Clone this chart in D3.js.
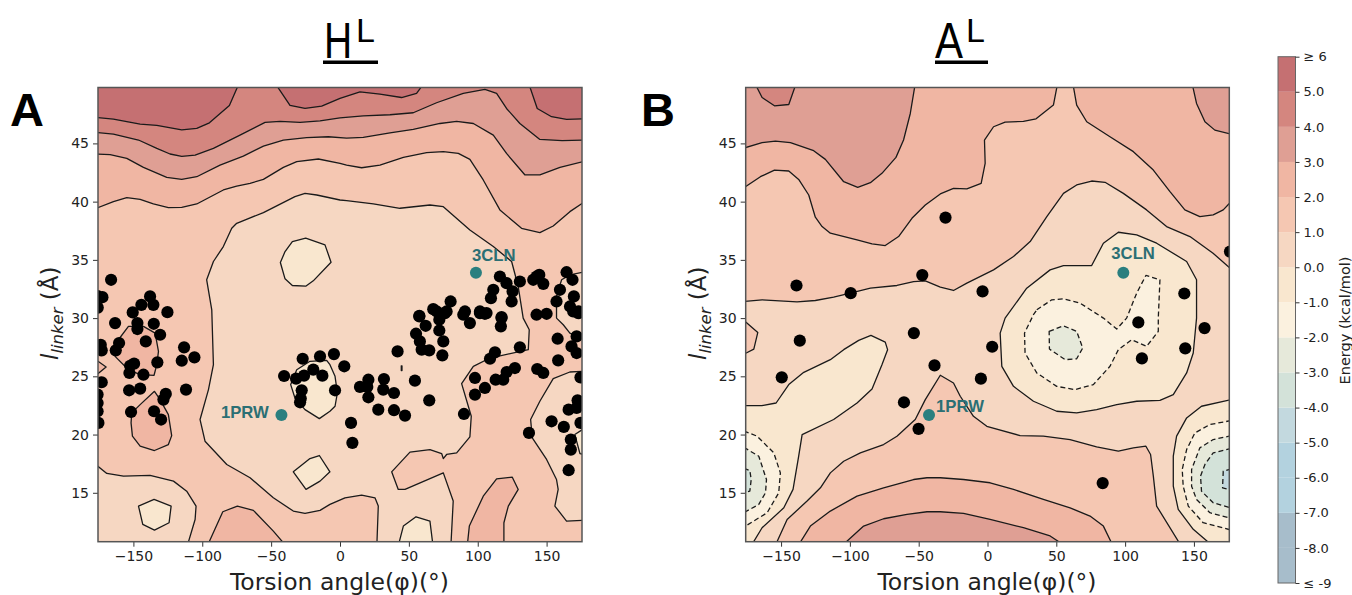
<!DOCTYPE html>
<html>
<head>
<meta charset="utf-8">
<script src="https://cdn.jsdelivr.net/npm/d3@7"></script>
<style>
body { margin: 0; background: #fff; }
svg { display: block; }
text { font-family: "DejaVu Sans", sans-serif; fill: #222; }
</style>
</head>
<body>
<script>
// Energy bands of the colour bar: lower bound of each band and its colour
var bandLows = [-9,-8,-7,-6,-5,-4,-3,-2,-1,0,1,2,3,4,5];
var bandColors = ["#A7BDCB","#A7BDCB","#B3D2DF","#B3D2DF","#C3D9DF","#D3E2D9","#E6E9DA","#FBF1DF","#F9E7CF","#F6D7C2","#F5C7B2","#F0B6A3","#DF9F94","#D4867F","#C57072"];
var colorTicks = [-9,-8,-7,-6,-5,-4,-3,-2,-1,0,1,2,3,4,5,6];
var phiTicks = [-150,-100,-50,0,50,100,150];
var linkerTicks = [15,20,25,30,35,40,45];

// Panel A contours, [phi, l]
var a2 = [[-177,39.43],[-164.5,40],[-154.8,40.34],[-145.1,40.2],[-135.5,39.8],[-124.6,39.49],[-114.9,39.51],[-104,39.8],[-84.7,41],[-75,41.34],[-65.3,41.57],[-55.6,41.91],[-41.1,42.94],[-31.4,43.43],[-15.7,43.66],[0,43.29],[4.8,43.14],[15.7,42.91],[29,43.14],[46,43.8],[62.9,44.2],[75,44.29],[85.9,44.14],[94.3,43.63],[104,41.86],[116.1,39.29],[131.8,37.71],[145.1,37.34],[154.8,37.91],[166.9,39.14],[177,39.95],[177,50.5],[-177,50.5]];
var a3 = [[-177,44.09],[-166.9,44.03],[-154.8,43.71],[-142.7,42.94],[-125.8,42.09],[-114.9,41.91],[-104,42.14],[-87.1,43.14],[-70.2,43.91],[-55.6,44.77],[-41.1,45.29],[-24.2,45.49],[-8.5,45.57],[4.8,45.46],[16.9,45.51],[36.3,45.91],[53.2,46.2],[72.6,46.71],[84.7,46.89],[96.8,46.71],[111.3,45.71],[120.9,44.14],[134.3,42.29],[145.1,42.29],[159.7,42.94],[177,43.45],[177,50.5],[-177,50.5]];
var a4 = [[-177,45.94],[-164.5,45.8],[-146.3,45.29],[-133,44.57],[-123.4,44.09],[-114.9,43.89],[-105.2,44],[-91.9,44.57],[-72.6,45.71],[-54.4,46.8],[-43.5,46.89],[-29,46.8],[-14.5,46.94],[0,47.2],[16.9,47.37],[36.3,47.46],[53.2,47.63],[70.1,48.49],[89.5,49.29],[105.2,49.63],[113.7,49.29],[120.9,48],[130.6,46.71],[145.1,45.34],[161.3,45.23],[177,45.29],[177,50.5],[-177,50.5]];
var a5Left = [[-177,47.23],[-164.5,47.09],[-145.1,46.66],[-133,46.54],[-114.9,46.17],[-104,46.29],[-94.8,46.77],[-80.3,48.26],[-72,50.5],[-177,50.5]];
var a5Mid = [[-49,50.5],[-36.3,48.26],[-25.4,48],[-13.3,48.2],[0,48.86],[14.5,49.43],[29,49.23],[44.7,48.94],[55.6,49.29],[63,50.5]];
var a5Right = [[136,50.5],[143.2,48],[153.6,47.29],[164.5,47.06],[177,47.11],[177,50.5]];
var a0Main = [[26.6,10],[27.8,13.86],[25.4,14.57],[15.7,14.8],[3.6,14.57],[-7.3,14],[-14.5,13.49],[-25.4,13.23],[-33.9,13.43],[-48.4,14.57],[-65.3,16.29],[-82.2,17.43],[-98,19.43],[-101.6,21.29],[-95.5,23.86],[-91.9,26],[-93.1,30.71],[-96.8,33.29],[-91.9,34.86],[-84.7,36.14],[-78.6,37.71],[-75,38.14],[-55.6,39.06],[-32.7,40.43],[-25.4,40.71],[-16.9,40.57],[0,40.14],[4.8,40.09],[24.2,39.8],[43.5,39.43],[65.3,39.71],[75,39.57],[94.3,37.57],[111.3,36.14],[124.6,34.86],[129.4,32.71],[133,30],[137.4,29],[136.7,27.29],[108.9,26.57],[96.8,25.86],[88.3,24.37],[95.3,21.57],[94.3,19.8],[84.7,18.43],[77.4,18.29],[75,17.94],[73.8,18.37],[65.3,18.71],[50.8,18.49],[37.5,16.8],[42.3,15.29],[47.2,15.29],[75,16.71],[82.2,14.29],[80.3,10]];
var a0TopRight = [[177,33.95],[166.9,33.71],[160.9,33.29],[157.2,31.86],[157.2,30],[162.1,29.43],[166.9,28.71],[177,28.2]];
var a0BottomRight = [[177,25.43],[166.9,25.37],[154.8,24.8],[145.1,22.86],[138.4,21.29],[139.6,19.71],[150,17.86],[157.2,16.14],[158.4,15.29],[156,13.86],[164.5,12.57],[177,12.63]];
var a0BottomLeft = [[-177,17.4],[-169.3,16.66],[-157.2,16.43],[-137.9,16.49],[-120.9,16],[-111.3,15.14],[-104.5,13.86],[-105.2,12.71],[-112,10],[-177,10]];
var a2Bottom1 = [[92,10],[93.9,12.14],[104,14.71],[113.7,16.2],[125.1,16.34],[129.4,15.29],[122.2,13.86],[119,12.43],[119,10]];
var a2Bottom2 = [[-98,10],[-85.1,13.37],[-74.5,13.86],[-62.9,13.49],[-48.4,11.71],[-36,10]];
var a2BlobLow = [[-151.7,21],[-150.7,19.86],[-145.1,19],[-134.7,18.63],[-124.6,19.14],[-122.2,19.91],[-124.6,21.71],[-130.6,23],[-134.7,23.71],[-145.1,22.57],[-151.2,21.86]];
var a2BlobHigh = [[-163.3,26.71],[-153.6,25.57],[-145.1,25.14],[-135,25.09],[-133,26],[-131.8,27.14],[-134.2,28.71],[-142.7,29.29],[-153.6,29.29],[-160.9,28.14]];
var a2Sliver = [[-177,26.4],[-169.8,25.8],[-177,25.1]];
var am1Bottom = [[41.3,10],[46,12.14],[55.2,12.94],[65.3,12.57],[68,10]];
var am1Left = [[-146.3,13.86],[-135,14.43],[-122.6,13.86],[-124.1,12.43],[-134.7,11.8],[-143.2,12.29]];
var am1Top = [[-34.6,36.57],[-24.9,36.86],[-10.9,36.29],[-6.5,34.8],[-19.4,33.2],[-24.9,32.74],[-34.6,32.8],[-39.9,33.37],[-43.3,34.77],[-39.9,35.71]];
var am1Mid = [[-7.3,26],[-3.6,25],[-1.9,23.57],[-3.6,22.43],[-7.3,22],[-15,21.37],[-25.4,22.14],[-32.7,23.14],[-35.8,24.29],[-31.4,25.57],[-21.8,26.29],[-9.7,26.37]];
var am1Low = [[-33.9,16.8],[-21.8,17.94],[-15,18.2],[-7.3,16.8],[-14.5,16],[-24.7,15.29]];
var am1Right = [[177,20.5],[170.5,20],[174.2,18.37],[177,18.3]];
var am1Dot = [[44.5,25.9],[45,25.9],[45,25.5],[44.5,25.5]];

var aRegions = [
	[2,a2],[3,a3],[4,a4],[5,a5Left],[5,a5Mid],[5,a5Right],
	[0,a0Main],[0,a0TopRight],[0,a0BottomRight],[0,a0BottomLeft],
	[2,a2Bottom1],[2,a2Bottom2],[2,a2BlobLow],[2,a2BlobHigh],[2,a2Sliver],
	[-1,am1Bottom],[-1,am1Left],[-1,am1Top],[-1,am1Mid],[-1,am1Low],[-1,am1Right],[-1,am1Dot]
];

// Panel B contours
var b2Left = [[-177,41.2],[-165,42.14],[-154.8,42.71],[-144.4,42.63],[-137.2,41.91],[-129.9,40.57],[-125.1,38.66],[-120.2,37.86],[-114.2,37.29],[-94.8,36.71],[-83.9,36.37],[-74.3,36.23],[-64.6,37],[-54.9,38.57],[-45.2,39.71],[-34.3,40.66],[-24.7,41.14],[-15,41.09],[-4.6,41.57],[-1.7,43.29],[-2.2,45.29],[4.4,46.43],[12.8,46.83],[26.1,46.89],[35.3,47.11],[47.9,48.29],[51.5,50.5],[-177,50.5]];
var b2Right = [[61.5,50.5],[64.8,48.29],[72.1,46.86],[89,45.57],[106,44.29],[120.5,42.71],[132.6,40.86],[143.4,39.29],[154.3,38.71],[164,38.86],[171.3,39.29],[177,40],[177,50.5]];
var b3Left = [[-177,44.6],[-163.8,45.06],[-154.1,45.2],[-143.2,45.06],[-126.3,44.37],[-117.8,43.63],[-104.5,41.71],[-94.3,41.23],[-85.1,41.63],[-76.7,42.43],[-66.5,43.8],[-61,45.29],[-56.1,47.57],[-52,50.5],[-177,50.5]];
var b3Right = [[148,50.5],[151.9,48.43],[158,46.86],[165.2,46.14],[177,45.8],[177,50.5]];
var b4Top = [[-170.5,50.5],[-163.8,48.94],[-154.8,48.23],[-144.4,48.34],[-138,50.5]];
var b0Main = [[-177,31.43],[-163.8,31.57],[-138.4,31.4],[-125.1,31.51],[-111.8,31.8],[-99.7,32.14],[-85.1,32.57],[-65.8,32.8],[-53.7,33.14],[-45.2,33.2],[-34.3,32.66],[-24.7,32.37],[-15,33],[4.4,34.14],[18.9,35.29],[31,36.57],[43.1,38.71],[55.2,40.71],[64.8,41.43],[75.7,41.77],[85.4,41.66],[98.7,40.71],[115.6,39.29],[130.1,37.86],[147.1,37],[163.9,35.57],[177,34.2],[177,10],[143,10],[122.9,13.86],[120.5,16.43],[118.5,18.29],[115.1,19],[106,18.86],[95.1,18.57],[79.3,18.94],[60,19.57],[40.6,19.86],[23.7,19.91],[-0.5,20.71],[-10.2,21.57],[-19.8,23.29],[-24.7,24.43],[-34.3,25.09],[-45.2,23],[-52.5,21.29],[-65.8,19.86],[-75.5,19.14],[-92.4,18.43],[-104.5,17.71],[-114.2,16.71],[-121.4,15.43],[-131.1,14.29],[-145.6,12.71],[-156,10],[-177,10]];
var b1Sliver = [[-177,29.8],[-166.9,28.77],[-169.8,27.34],[-177,26.9]];
var b2Arch = [[-140,10],[-128.7,12.14],[-114.2,13.43],[-94.8,14.71],[-75.5,15.43],[-53.7,16.14],[-44,16.29],[-34.3,16.29],[-17.4,16.14],[1.9,15.86],[18.9,15.29],[40.6,14.43],[60,13.71],[74.5,13],[84.2,12.14],[93,10]];
var b3Arch = [[-110,10],[-90,12.14],[-75.5,12.77],[-58.5,13.14],[-44,13.37],[-34.3,13.37],[-17.4,13.23],[1.9,12.71],[26.1,12],[45.5,11.29],[62,10]];
var bm1Left = [[-177,22.49],[-163.8,22.49],[-153.6,22.71],[-144.4,24.29],[-133.5,25.34],[-114.2,26.43],[-104.5,27.29],[-93.6,28.09],[-84.7,28.51],[-74.3,27.94],[-72.6,27.29],[-76.7,26],[-83.9,23.91],[-94.8,22.71],[-111.8,21.29],[-134.7,20],[-137.2,18.14],[-141.3,15.29],[-148,13.71],[-163.8,12],[-174,10],[-177,10]];
var bm2Left = [[-177,20.3],[-167.4,19.86],[-155.3,18.43],[-150.5,16.71],[-151.7,15],[-160.1,13.29],[-177,12.05]];
var bm3Left = [[-177,18.9],[-166.2,18.14],[-160.6,16.14],[-161.3,15],[-166.2,14],[-177,13.3]];
var bm4Left = [[-177,17.1],[-172.7,16.91],[-171.7,16.14],[-172.7,15.14],[-177,15]];
var bm1Mid = [[12.8,30],[28.5,32.57],[45.5,34.14],[55.2,34.51],[75.7,34.51],[84.2,36.43],[95.1,37.37],[108.4,37.14],[122.9,36.43],[144.7,34.86],[151.9,33.29],[151.9,30],[149.5,27],[144.7,25.29],[135,23.43],[125.3,22.94],[108.4,22.86],[93.9,22.57],[79.3,22.14],[64.8,21.86],[50.3,22],[33.4,22.86],[18.9,24.14],[10.4,25.86],[9.2,28.71]];
var bm2Mid = [[35.8,30.71],[46.7,31.57],[55.2,31.66],[67.2,31.29],[84.2,30],[93.9,29.06],[101.1,30],[108.4,32.14],[115.1,33.66],[125.3,33.29],[124.1,30],[124.1,28.86],[115.6,27.57],[104.7,28.14],[95.1,27.29],[89,25.86],[76.9,24.29],[63.6,23.86],[50.3,24.14],[35.8,25.29],[27.3,27],[26.9,28.71],[33.4,30.29]];
var bm3Mid = [[44.8,28.86],[55.2,29.34],[64.8,28.86],[69.2,27.43],[64.8,26.51],[56.4,26.43],[45,27.34]];
var bm1Right = [[177,23],[155.5,22.43],[144.7,21.43],[137.4,19.86],[135,18.14],[135,15.57],[138.6,13.57],[149.5,11.86],[168,10],[177,10]];
var bm2Right = [[177,21.2],[161.6,20.86],[150.7,20.14],[144.7,18.71],[141.5,17],[142.2,15.57],[145.9,13.86],[156.7,12.43],[177,11.8]];
var bm3Right = [[177,19.9],[164,19.57],[154.3,18.86],[148.3,17],[148.3,15.57],[151.9,14.43],[161.6,13.29],[177,12.8]];
var bm4Right = [[177,18.8],[164,18.43],[158,17.43],[154.8,16.43],[155.5,15.14],[164,14.14],[177,13.7]];
var bm5Right = [[177,17.05],[171.3,16.86],[170.8,15.43],[177,15.25]];

var bRegions = [
	[2,b2Left],[2,b2Right],[3,b3Left],[3,b3Right],[4,b4Top],
	[0,b0Main],[1,b1Sliver],[2,b2Arch],[3,b3Arch],
	[-1,bm1Left],[-2,bm2Left],[-3,bm3Left],[-4,bm4Left],
	[-1,bm1Mid],[-2,bm2Mid],[-3,bm3Mid],
	[-1,bm1Right],[-2,bm2Right],[-3,bm3Right],[-4,bm4Right],[-5,bm5Right]
];

// Structures, phi and l
var aDots = [[-166.2,33.29],[-172.5,31.8],[-176,31.9],[-137.9,31.86],[-144.2,31.14],[-135.5,31.14],[-150.5,30.49],[-125.3,30.51],[-175.9,30.9],[-163.3,29.57],[-135.2,29.51],[-147.1,29.57],[-147.1,29.06],[-130.6,28.57],[-141,28],[-160.4,27.86],[-162.8,27.23],[-173.7,27.71],[-173,27.23],[-113.2,27.49],[-105.7,26.63],[-114.9,26.34],[-132.6,26.2],[-149.5,26.09],[-152.4,25.91],[-152.9,25.29],[-142.7,25.14],[-173,24.49],[-145.1,23.94],[-153.1,23.8],[-111.8,23.86],[-126.5,23.49],[-128.2,23],[-176,23.43],[-176,22.7],[-176,22],[-151.7,21.94],[-135,22],[-129.9,21.29],[-175.4,21],
	[-27.1,26.51],[-14.5,26.71],[-4.4,26.91],[-40.6,25.03],[-31.9,24.8],[-26.1,25.06],[-19.4,25.57],[-12.8,25.06],[3.1,25.86],[-3.6,23.8],[-27.8,23.8],[-28.5,23.1],[-29,22.77],[8,21],[9,19.29],
	[57.6,30.14],[62.2,29.34],[55.2,28.66],[58,28],[59.3,27.29],[64.8,27.23],[72.1,28.94],[75,28],[74.3,26.8],[41.8,27.14],[20.6,24.71],[14.5,24.09],[20.6,23.2],[19.8,24.09],[31.9,24.77],[31.4,23.86],[39.2,23.57],[54.4,24.63],[27.8,22.14],[39.2,22.09],[47.2,21.63],[64.8,22.94],[90,21.77],[98,24.86],[98,23.43],[105.2,24],[113,24.71],[118.5,24.71],[121,25.37],[127,25.71],[108.9,26.51],[112.5,27.06],[130.6,27.49],[143.2,25.63],[147.6,25.29],[158.4,26.37],[158,28.23],[137.2,20.14],[153.6,21.14],[162.5,20.66],[166,22.14],[171.8,22.29],[172.5,22.94],[174.6,24.91],[174.6,21],[167.6,19.57],[167.6,18.71],[166,16.94],[168.1,27.57],[171.8,27],[171.8,28.43],
	[70.2,30.57],[76.2,30.43],[72.1,29.86],[89.5,30.29],[94.3,29.57],[101.6,30.43],[105.2,30.37],[117.3,30],[116.8,29.29],[142.7,30.29],[150,30.37],[169.3,30.57],[173,30.43],
	[116.1,33.57],[120.9,33],[130.6,33.14],[125.3,32.29],[111.3,32.43],[109.6,31.71],[124.6,31.43],[142.7,33.57],[140.3,33.29],[147.6,32.94],[144.7,33.71],[164.5,33.94],[168.8,33.29],[159.7,32.43],[157.2,31.43],[169.8,31.86],[167,31],[173,30.57],[80.3,31.43],[77.4,30.57],[67.7,30.77],[90.7,30.57],[57.6,30.2],[117.3,30.09],[101.6,30.57],[106.4,30.43]];
var bDots = [[-138.8,32.8],[-99.4,32.14],[-47.4,33.69],[-30.5,38.63],[-3.6,32.29],[143,32.11],[176.2,35.71],[-136.4,28.06],[-53.5,28.71],[-149.5,24.91],[-38.5,25.94],[-60.7,22.77],[-50.1,20.49],[-4.8,24.8],[3.4,27.54],[109.6,29.63],[112.2,26.54],[143.7,27.4],[157.7,29.14],[83.7,15.83]];

var refNames = ["1PRW","3CLN"];
var refPhi = [-42.5,98.7];
var refLinker = [21.68,33.9];

var svg = d3.select("body").append("svg").attr("width",1352).attr("height",595);

var yScale = d3.scaleLinear().domain([10.8,49.8]).range([541.7,87.5]);
var bandColor = d3.scaleOrdinal().domain(bandLows).range(bandColors);

function drawPanel(id, left, right, regions, dots, labelDx, labelDy) {
	var xScale = d3.scaleLinear().domain([-175.7,175.7]).range([left,right]);
	var line = d3.line().x(function(d){return xScale(d[0]);}).y(function(d){return yScale(d[1]);});

	svg.append("clipPath").attr("id",id)
		.append("rect")
		.attr("x",left).attr("y",yScale(49.8))
		.attr("width",right-left).attr("height",yScale(10.8)-yScale(49.8));

	var plot = svg.append("g").attr("clip-path","url(#"+id+")");

	// fundo = faixa de 1 a 2
	plot.append("rect")
		.attr("x",left).attr("y",yScale(49.8))
		.attr("width",right-left).attr("height",yScale(10.8)-yScale(49.8))
		.attr("fill",bandColor(1));

	plot.selectAll("path.region")
		.data(regions)
		.enter().append("path")
		.attr("class","region")
		.attr("d",function(d){return line(d[1])+"Z";})
		.attr("fill",function(d){return bandColor(d[0]);})
		.attr("stroke","#1a1a1a")
		.attr("stroke-width",1.3)
		.attr("stroke-linejoin","round")
		.attr("stroke-dasharray",function(d){return d[0]<-1 ? "5,3" : null;});

	plot.selectAll("circle.dot")
		.data(dots)
		.enter().append("circle")
		.attr("class","dot")
		.attr("cx",function(d){return xScale(d[0]);})
		.attr("cy",function(d){return yScale(d[1]);})
		.attr("r",6.1)
		.attr("fill","#000");

	// Estruturas de referencia
	svg.selectAll("circle.ref"+id)
		.data(refNames)
		.enter().append("circle")
		.attr("class","ref"+id)
		.attr("cx",function(d,i){return xScale(refPhi[i]);})
		.attr("cy",function(d,i){return yScale(refLinker[i]);})
		.attr("r",6)
		.attr("fill","#2A7F7F");

	svg.selectAll("text.ref"+id)
		.data(refNames)
		.enter().append("text")
		.attr("class","ref"+id)
		.attr("x",function(d,i){return xScale(refPhi[i])+labelDx[i];})
		.attr("y",function(d,i){return yScale(refLinker[i])+labelDy[i];})
		.text(function(d){return d;})
		.style("font-family","'Liberation Sans',sans-serif")
		.style("font-weight","bold")
		.style("font-size","16.7px")
		.style("fill","#2B6F74");

	// Eixos
	var xAxis = d3.axisBottom(xScale).tickValues(phiTicks).tickSize(5).tickPadding(4)
		.tickFormat(function(d){return d<0 ? "\u2212"+(-d) : d;});
	var yAxis = d3.axisLeft(yScale).tickValues(linkerTicks).tickSize(5).tickPadding(4);

	var gx = svg.append("g").attr("transform","translate(0,"+yScale(10.8)+")").call(xAxis);
	var gy = svg.append("g").attr("transform","translate("+left+",0)").call(yAxis);
	[gx,gy].forEach(function(g){
		g.selectAll("text").style("font-size","14px");
		g.selectAll("line").attr("stroke","#333");
		g.select(".domain").remove();
	});

	svg.append("rect")
		.attr("x",left).attr("y",yScale(49.8))
		.attr("width",right-left).attr("height",yScale(10.8)-yScale(49.8))
		.attr("fill","none").attr("stroke","#555").attr("stroke-width",1.5);

	// Rotulos
	svg.append("text")
		.attr("x",(left+right)/2-0.5).attr("y",590)
		.attr("text-anchor","middle")
		.style("font-size","23.5px")
		.text("Torsion angle(\u03C6)(\u00B0)");

	var yLabel = svg.append("text")
		.attr("transform","translate("+(left-40)+",360) rotate(-90)")
		.style("font-size","23px");
	yLabel.append("tspan").style("font-style","italic").text("l");
	yLabel.append("tspan").style("font-style","italic").style("font-size","16.5px").attr("dy",5).text("linker");
	yLabel.append("tspan").attr("dy",-5).text(" (\u00C5)");
}

drawPanel("panelA",98,582,aRegions,aDots,[-60.5,-4],[3,-12]);
drawPanel("panelB",745.7,1229.3,bRegions,bDots,[7,-12],[-3,-14]);

// Letras e titulos
[["A",10,126],["B",641,126]].forEach(function(d){
	svg.append("text").attr("x",d[1]).attr("y",d[2])
		.text(d[0])
		.style("font-family","'Liberation Sans',sans-serif")
		.style("font-weight","bold")
		.style("font-size","47px")
		.style("fill","#000");
});

[["H",324,356,323,55,0.78],["A",935,966,935,53,0.84]].forEach(function(d){
	svg.append("text")
		.attr("transform","translate("+d[1]+",58) scale("+d[5]+",1)")
		.style("font-family","'Liberation Sans',sans-serif")
		.style("fill","#000")
		.style("font-size","50px")
		.text(d[0]);
	svg.append("text").attr("x",d[2]).attr("y",42)
		.style("font-family","'Liberation Sans',sans-serif")
		.style("fill","#000")
		.style("font-size","34px")
		.text("L");
	svg.append("rect").attr("x",d[3]).attr("y",60.5).attr("width",d[4]).attr("height",3.5).attr("fill","#000");
});

// Barra de cores
var cScale = d3.scaleLinear().domain([-9,6]).range([583,56.7]);
var barLeft = 1278, barRight = 1295.5;

svg.selectAll("rect.band")
	.data(bandLows)
	.enter().append("rect")
	.attr("class","band")
	.attr("x",barLeft)
	.attr("y",function(d){return cScale(d+1);})
	.attr("width",barRight-barLeft)
	.attr("height",function(d){return cScale(d)-cScale(d+1);})
	.attr("fill",function(d){return bandColor(d);});

svg.append("rect")
	.attr("x",barLeft).attr("y",cScale(6))
	.attr("width",barRight-barLeft).attr("height",cScale(-9)-cScale(6))
	.attr("fill","none").attr("stroke","#666").attr("stroke-width",1);

var cAxis = d3.axisRight(cScale).tickValues(colorTicks).tickSize(4).tickPadding(4)
	.tickFormat(function(d){
		if (d==6) return "\u2265 6";
		if (d==-9) return "\u2264 -9";
		return d3.format(".1f")(d).replace("\u2212","-");
	});
var gc = svg.append("g").attr("transform","translate("+barRight+",0)").call(cAxis);
gc.selectAll("text").style("font-size","13px");
gc.selectAll("line").attr("stroke","#333");
gc.select(".domain").remove();

svg.append("text")
	.attr("transform","translate(1350,320.5) rotate(-90)")
	.attr("text-anchor","middle")
	.style("font-size","14.5px")
	.text("Energy (kcal/mol)");
</script>
</body>
</html>
